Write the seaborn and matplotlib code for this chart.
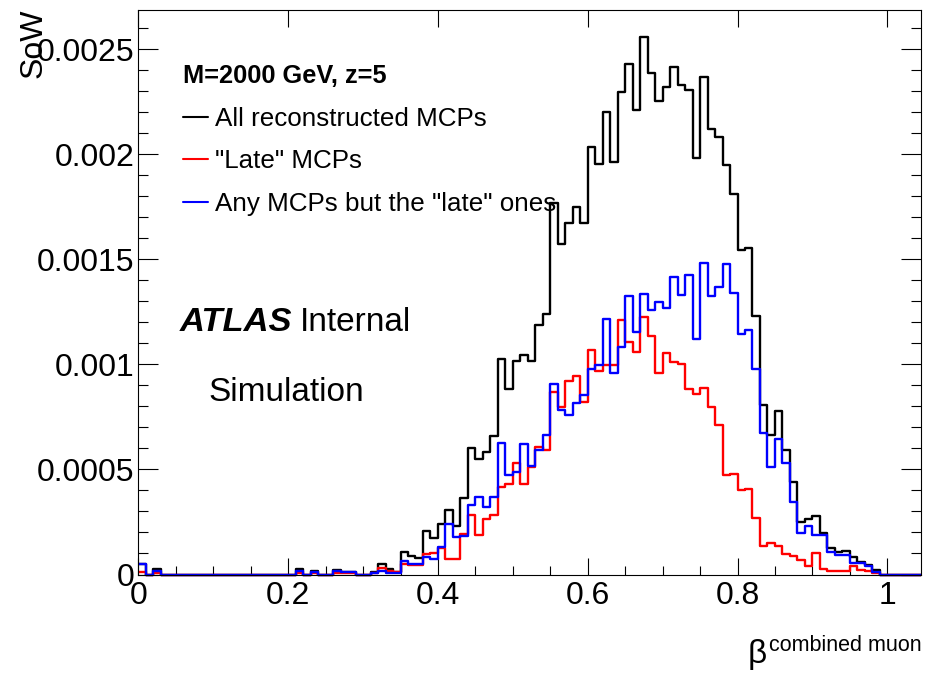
import numpy as np
import pandas as pd
import matplotlib
matplotlib.use("Agg")
import matplotlib.pyplot as plt
import seaborn as sns
from matplotlib.lines import Line2D
from matplotlib.transforms import Bbox, TransformedBbox

# ---- data: sum of weights per 0.01-wide bin of beta (units of 1e-6) ----
bin_edges = [round(0.01 * i, 2) for i in range(106)]

all_mcps = [
    52, 0, 24, 0, 0, 0, 0, 0, 0, 0, 0, 0, 0, 0, 0, 0, 0, 0, 0, 0,
    0, 24, 0, 19, 0, 0, 21, 14, 14, 0, 0, 10, 50, 24, 14, 105, 89, 80, 207, 175,
    240, 307, 232, 365, 603, 549, 584, 660, 1028, 885, 1016, 1043, 1016, 1188, 1241, 1767, 1574, 1672, 1748, 1672,
    2033, 1954, 2204, 1962, 2295, 2430, 2211, 2560, 2387, 2252, 2322, 2418, 2331, 2306, 1981, 2369, 2121, 2081, 1950, 1812,
    1546, 1555, 1229, 806, 663, 777, 595, 441, 251, 262, 278, 196, 125, 108, 112, 85, 61, 45, 21, 0,
    0, 0, 0, 0, 0,
]
late_mcps = [
    10, 0, 7, 0, 0, 0, 0, 0, 0, 0, 0, 0, 0, 0, 0, 0, 0, 0, 0, 0,
    0, 7, 0, 5, 0, 0, 7, 7, 5, 0, 0, 7, 33, 19, 10, 52, 43, 43, 97, 104,
    128, 72, 72, 195, 283, 188, 266, 285, 417, 430, 529, 433, 512, 606, 595, 869, 798, 921, 943, 821,
    1067, 969, 996, 998, 1214, 1107, 1060, 1226, 1134, 958, 1055, 1012, 1003, 884, 860, 889, 798, 713, 475, 480,
    404, 405, 267, 135, 151, 135, 97, 88, 69, 40, 104, 25, 17, 17, 17, 40, 21, 17, 9, 0,
    0, 0, 0, 0, 0,
]
other_mcps = [
    48, 0, 19, 0, 0, 0, 0, 0, 0, 0, 0, 0, 0, 0, 0, 0, 0, 0, 0, 0,
    0, 19, 0, 14, 0, 0, 17, 10, 10, 0, 0, 5, 19, 5, 5, 64, 48, 48, 85, 74,
    131, 239, 177, 183, 330, 370, 319, 370, 624, 473, 489, 620, 516, 592, 663, 909, 785, 758, 817, 856,
    980, 996, 1218, 961, 1083, 1328, 1154, 1337, 1257, 1297, 1270, 1415, 1333, 1424, 1123, 1482, 1328, 1371, 1476, 1338,
    1143, 1165, 980, 674, 512, 647, 529, 346, 196, 231, 188, 188, 109, 93, 95, 53, 53, 40, 13, 0,
    0, 0, 0, 0, 0,
]

series_labels = ["All reconstructed MCPs", "\"Late\" MCPs", "Any MCPs but the \"late\" ones"]
series_colors = ["black", "#ff0000", "#0000ff"]
legend_title = "M=2000 GeV, z=5"

x_ticks = [0, 0.2, 0.4, 0.6, 0.8, 1.0]
x_tick_labels = ["0", "0.2", "0.4", "0.6", "0.8", "1"]
y_ticks = [0, 0.0005, 0.001, 0.0015, 0.002, 0.0025]
y_tick_labels = ["0", "0.0005", "0.001", "0.0015", "0.002", "0.0025"]

edges = np.array(bin_edges)
centers = (edges[:-1] + edges[1:]) / 2
df = pd.DataFrame({
    "beta": centers,
    "all": np.array(all_mcps) * 1e-6,
    "late": np.array(late_mcps) * 1e-6,
    "other": np.array(other_mcps) * 1e-6,
})

# ---- figure ----
sns.set_style("ticks")
plt.rcParams["font.family"] = ["Liberation Sans", "DejaVu Sans"]
plt.rcParams["text.color"] = "black"

W, H = 928, 674
fig = plt.figure(figsize=(W / 100, H / 100), dpi=100)


def px(x, y):
    return x / W, 1 - y / H


left, right, top, bottom = 138.4, 921.0, 9.5, 574.5
ax = fig.add_axes([left / W, 1 - bottom / H, (right - left) / W, (bottom - top) / H])

for col, color in zip(["all", "late", "other"], series_colors):
    sns.histplot(data=df, x="beta", weights=col, bins=bin_edges, element="step",
                 fill=False, color=color, linewidth=1.7, ax=ax)

ax.set_xlim(0, 1.045)
ax.set_ylim(0, 0.00269)

# let the outlines sit fully on top of the lower frame line
clip = TransformedBbox(Bbox([[0.0, -0.01], [1.0, 1.0]]), ax.transAxes)
for ln in ax.lines:
    ln.set_clip_path(None)
    ln.set_clip_box(clip)

ax.set_xticks(x_ticks)
ax.set_xticklabels(x_tick_labels)
ax.set_yticks(y_ticks)
ax.set_yticklabels(y_tick_labels)
ax.set_xticks(np.round(np.arange(0, 1.05, 0.05), 2), minor=True)
ax.set_yticks(np.round(np.arange(0, 0.0027, 0.0001), 5), minor=True)

ax.tick_params(which="both", direction="in", top=True, right=True, width=0.8, colors="black")
ax.tick_params(axis="x", which="major", length=12.5, labelsize=23, pad=5)
ax.tick_params(axis="x", which="minor", length=6.5, top=False)
ax.tick_params(axis="y", which="major", length=14.5, labelsize=23, pad=3)
ax.tick_params(axis="y", which="minor", length=7)
for sp in ax.spines.values():
    sp.set_linewidth(0.8)
    sp.set_color("black")
ax.set_xlabel("")
ax.set_ylabel("")

# axis titles
fig.text(*px(34, 8), "SoW", rotation=90, ha="center", va="top", fontsize=23)
fig.text(*px(922, 651), "combined muon", ha="right", va="baseline", fontsize=15.5)
fig.text(*px(767, 663), "\u03b2", ha="right", va="baseline", fontsize=24)

# legend
handles = [Line2D([], [], color=c, linewidth=1.5) for c in series_colors]
leg = ax.legend(handles, series_labels, title=legend_title, loc="upper left",
                bbox_to_anchor=((183 - left) / (right - left), 1 - (64 - top) / (bottom - top)),
                frameon=False, fontsize=18.7, title_fontsize=18.3, alignment="left",
                handlelength=0.97, handletextpad=0.26, labelspacing=0.72,
                borderpad=0, borderaxespad=0)
leg.get_title().set_fontweight("bold")

# ATLAS label
fig.text(*px(180, 331), "ATLAS", fontsize=24.8, fontweight="bold", style="italic", va="baseline")
fig.text(*px(300, 331), "Internal", fontsize=24, va="baseline")
fig.text(*px(208, 401), "Simulation", fontsize=24, va="baseline")

fig.savefig("out.png", dpi=100)
